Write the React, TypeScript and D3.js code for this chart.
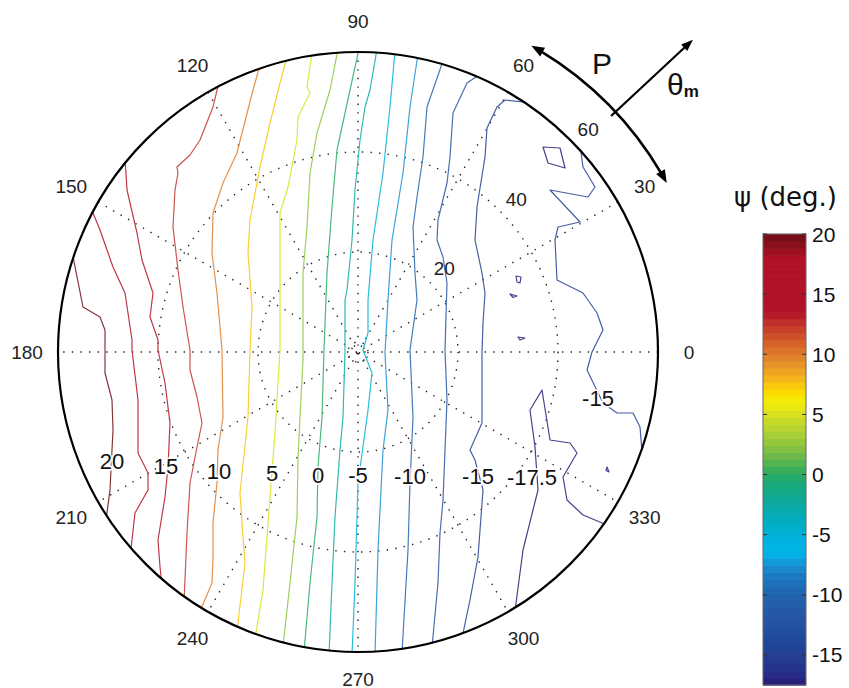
import React from "react";
import * as d3 from "d3";

// ---- layout ----
const W = 849;
const H = 688;
const CX = 358;
const CY = 352;
const R = 300;
const RMAX = 60;

// ---- polar grid ----
const angleTicks = [0, 30, 60, 90, 120, 150, 180, 210, 240, 270, 300, 330];
const ringValues = [2, 20, 40];
const radialTicks = [20, 40, 60];

// ---- contour levels (deg.) and traces, in plot units (x, y) ----
const contourLevels = [20, 17.5, 15, 12.5, 10, 7.5, 5, 2.5, 0, -2.5, -5, -7.5, -10, -12.5, -15, -15, -17.5];

const c20 = [[-57.3, 20.6], [-55, 9], [-51.6, 7], [-50.6, 4.4], [-50.6, -1.6], [-50.6, -4.2], [-49.2, -9.6], [-49, -15.6], [-49.2, -19.6], [-49.6, -27.6], [-50.4, -33.6]];
const c175 = [[-53.4, 28.8], [-51.6, 24.4], [-49, 17], [-46.6, 11.8], [-45.2, 2.4], [-45.2, 0.4], [-44, -9.6], [-44, -20.2], [-42, -24.2], [-42, -27.6], [-44.6, -32.2], [-45.5, -40.2]];
const c15 = [[-46.6, 38.8], [-46.2, 32.4], [-44.2, 23.8], [-43.2, 18.4], [-41, 11.8], [-41.6, 7], [-40, 2.4], [-40, 0.4], [-38.6, -6.2], [-37.6, -14.2], [-38, -23], [-38.6, -29], [-40, -37.6], [-39.6, -43], [-39.2, -46.6]];
const c125 = [[-27.8, 54], [-29, 49], [-31.6, 42.4], [-33.6, 39.4], [-36.2, 37], [-36, 35.8], [-36.6, 32.4], [-37, 25], [-36, 16.4], [-35, 9], [-33.6, 0.4], [-33.6, -3.6], [-32.2, -9], [-31.2, -14.2], [-32.2, -19], [-33.6, -26.2], [-34.2, -36.2], [-34.8, -50]];
const c10 = [[-19.6, 57.4], [-21, 52.4], [-23.2, 43.8], [-24.2, 39.8], [-27, 33.8], [-29, 27.8], [-29.2, 19.8], [-28.2, 11.8], [-27.6, 5], [-27.2, 0.4], [-27, -13], [-28, -19.6], [-28.2, -26.2], [-29, -34.2], [-29, -41], [-29.2, -46.2], [-31.6, -51.8]];
const c75 = [[-14.2, 59], [-15.6, 53.8], [-17.6, 45.8], [-19.6, 37], [-21.6, 26.4], [-22, 19.8], [-21.2, 9], [-21.6, 0.4], [-22, -13], [-23.6, -28.2], [-23, -37], [-22.6, -42.2], [-24.2, -55.8]];
const c5 = [[-9.2, 59.8], [-10.2, 53], [-9.6, 51.8], [-12, 47], [-12.2, 42.4], [-14, 33], [-15.6, 27.8], [-15.6, 19.8], [-15.6, 9], [-15.6, 0.4], [-16.6, -16.2], [-18, -34.2], [-19, -47.6], [-20.6, -57.4]];
const c25 = [[-4, 60.6], [-5.6, 52.4], [-8.2, 43.8], [-9.6, 35.8], [-10.2, 25], [-11, 15.8], [-11, -1.6], [-11.6, -13], [-12, -21.6], [-12.2, -33], [-13.6, -46.2], [-15, -58.8]];
const c0 = [[0.2, 60.6], [-1.6, 52.4], [-4.2, 40.4], [-5.2, 29], [-6.2, 15.8], [-6.8, 0.4], [-7.2, -13], [-8, -23], [-8.2, -33], [-9.6, -46.2], [-10.8, -60]];
const cm25 = [[3.8, 60.6], [2.4, 52.4], [1.4, 49], [0.4, 42.4], [-0.6, 32.4], [-1.2, 22.4], [-2.2, 12.4], [-2.6, 10.4], [-2.6, 0], [-3, -13], [-3.6, -19.6], [-4.6, -33], [-5.2, -46.2], [-5.8, -60.6]];
const cm5 = [[7.4, 60.2], [6.4, 49], [5, 35.8], [3, 22.4], [2, 10.4], [2, 3.8], [1, 0.4], [2.8, -4.2], [2, -11.6], [0, -26.2], [-0.6, -46.2], [-1.2, -60.6]];
const cm75 = [[12, 59.6], [10.4, 49], [9, 35.8], [6.8, 22.4], [6, 10.4], [5.4, -0.2], [6, -11.6], [5, -19.6], [4, -39.6], [3.4, -60.6]];
const cm10 = [[17, 58.2], [13.8, 49], [13, 39], [11.8, 31], [11, 25], [11.4, 15.8], [11.8, 10.4], [10.4, 0.4], [11, -13], [10.4, -26.2], [10, -39.6], [8.8, -60.2]];
const cm125 = [[24.2, 55.4], [21.8, 53.8], [19, 47.8], [18.4, 39], [17.8, 33.8], [16, 26.4], [15.8, 22.4], [17, 19], [17.8, 13.8], [17.4, 0.4], [17.8, -9.6], [17, -29.6], [16.4, -36.2], [16, -46.2], [14.8, -59]];
const cm15 = [[35, 49.8], [29.4, 50.4], [27.8, 49], [25.8, 44.8], [25.4, 39], [23.8, 29], [23.4, 22.4], [24.8, 15.8], [25.4, 11.8], [25, 5.8], [24.8, -0.2], [24.8, -14.2], [22.4, -19.6], [23.4, -21.6], [25, -27.6], [24, -41], [22.4, -49.6], [20.8, -57.2]];
const cm15b = [[44.4, 41.4], [45, 37], [47.4, 33], [46, 31], [38.4, 32.4], [44.4, 26], [40, 25], [39.4, 22.4], [39.8, 14.4], [45, 11.8], [47.8, 7.8], [49, 4.4], [46.8, 0], [45.8, -3.6], [49, -10.2], [51.8, -12.2], [55, -12.2], [56.4, -15], [57, -22.4]];
const cm175 = [[31.4, -51.8], [33, -39.6], [36, -27.6], [35.4, -19], [34.4, -11.6], [36.8, -7.6], [38.4, -17.6], [42.4, -18.2], [43.8, -20.2], [41, -25], [41.8, -29.6], [45, -32.6], [49.8, -34.6]];

const contourTraces = [c20, c175, c15, c125, c10, c75, c5, c25, c0, cm25, cm5, cm75, cm10, cm125, cm15, cm15b, cm175];

// small closed contours (level -17.5)
const islandLevel = -17.5;
const islands = [
  [[37, 41], [40.4, 40.8], [41.4, 36.8], [38, 37.8]],
  [[31.6, 15.2], [32.6, 15], [32.4, 13.8], [31.8, 14]],
  [[30.4, 11.6], [31.8, 11.2], [31, 10.9]],
  [[32, 3], [33.4, 2.8], [32.4, 2.4]],
  [[49.8, -23], [50.2, -24], [49.6, -23.7]],
];

// inline contour labels
const labelText = ["20", "15", "10", "5", "0", "-5", "-10", "-15", "-17.5", "-15"];
const labelAt = [[-49.2, -21.8], [-38.4, -22.8], [-27.8, -23.8], [-17.2, -24.2], [-8, -24.6], [0, -24.6], [10.4, -24.8], [24, -24.8], [34.8, -25], [48, -9.2]];

// ---- colour bar ----
const cbTicks = [20, 15, 10, 5, 0, -5, -10, -15];
const cbStops = [-17.5, -16.5, -15, -13.5, -12, -10, -8.5, -7.5, -6.5, -5, -3.5, -2, -0.5, 0.5, 1.5, 3, 4.5, 6, 7, 8, 9.5, 11, 12.5, 13.5, 18, 19, 20];
const cbColors = ["#271a75", "#262d88", "#233f92", "#1f4c9a", "#2755a3", "#2262ad", "#1a78c0", "#1890d2", "#00b5ec", "#00b0d8", "#05adb8", "#10a996", "#1aa872", "#3cae58", "#6bb84a", "#a0cb38", "#c8da28", "#f3ee08", "#fdd800", "#f3b41c", "#e28a2c", "#d5602a", "#c2342a", "#b2132a", "#b10f24", "#8d111c", "#6c0e16"];

const cmap = d3.scaleLinear<string>().domain(cbStops).range(cbColors).interpolate(d3.interpolateRgb).clamp(true);
const lineColor = (v: number) => d3.interpolateRgb(cmap(v), "#ffffff")(0.16);

const xS = d3.scaleLinear().domain([-RMAX, RMAX]).range([CX - R, CX + R]);
const yS = d3.scaleLinear().domain([-RMAX, RMAX]).range([CY + R, CY - R]);
const rS = d3.scaleLinear().domain([0, RMAX]).range([0, R]);
const rad = (deg: number) => (deg * Math.PI) / 180;
const polar = (deg: number, r: number): [number, number] => [CX + rS(r) * Math.cos(rad(deg)), CY - rS(r) * Math.sin(rad(deg))];

const CB_X = 763;
const CB_W = 43;
const cbY = d3.scaleLinear().domain([-17.5, 20]).range([685, 234]);

const line = d3.line<number[]>().x(d => xS(d[0])).y(d => yS(d[1]));
const closedLine = d3.line<number[]>().x(d => xS(d[0])).y(d => yS(d[1])).curve(d3.curveLinearClosed);

function arrowHead(tip: [number, number], dir: [number, number], len = 13, wid = 10) {
  const [dx, dy] = dir;
  const nx = -dy, ny = dx;
  const bx = tip[0] - dx * len, by = tip[1] - dy * len;
  return `M${tip[0]},${tip[1]}L${bx + (nx * wid) / 2},${by + (ny * wid) / 2}L${bx - (nx * wid) / 2},${by - (ny * wid) / 2}Z`;
}

const dots = { stroke: "#222", strokeWidth: 1.4, strokeDasharray: "1.4 7.2", fill: "none" };
const sans = "'Liberation Sans', Arial, Helvetica, sans-serif";

export default function App() {
  // colour bar bands
  const nBands = 64;
  const step = 37.5 / nBands;
  const bands = d3.range(nBands).map(i => {
    const v0 = -17.5 + i * step;
    return { y: cbY(v0 + step), h: cbY(v0) - cbY(v0 + step) + 0.6, c: cmap(v0 + step / 2) };
  });

  // P arc with two heads
  const rP = 70.4;
  const tipLo = 28.7, tipHi = 60.5;
  const arcPath = d3.path();
  const a0 = -rad(tipLo + 1.6), a1 = -rad(tipHi - 1.6);
  arcPath.moveTo(CX + rS(rP) * Math.cos(a0), CY + rS(rP) * Math.sin(a0));
  arcPath.arc(CX, CY, rS(rP), a0, a1, true);
  const headHi = arrowHead(polar(tipHi, rP), [-Math.sin(rad(tipHi)), -Math.cos(rad(tipHi))]);
  const headLo = arrowHead(polar(tipLo, rP), [Math.sin(rad(tipLo)), Math.cos(rad(tipLo))]);

  // theta_m arrow
  const thAng = 43;
  const thStart = polar(thAng, 69.2);
  const thEnd = polar(thAng, 91.6);
  const thDir: [number, number] = [Math.cos(rad(thAng)), -Math.sin(rad(thAng))];
  const thLineEnd = [thEnd[0] - thDir[0] * 10, thEnd[1] - thDir[1] * 10];

  const pPos = polar(49.8, 75.6);

  return (
    <svg width={W} height={H} style={{ position: "absolute", left: 0, top: 0, background: "#fff" }} fontFamily={sans}>
      <defs>
        <clipPath id="disk">
          <circle cx={CX} cy={CY} r={R} />
        </clipPath>
      </defs>

      {/* dotted grid */}
      {ringValues.map(v => (
        <circle key={`ring${v}`} cx={CX} cy={CY} r={rS(v)} {...dots} />
      ))}
      {angleTicks.filter(a => a < 180).map(a => {
        const p1 = polar(a, RMAX);
        const p2 = polar(a + 180, RMAX);
        return <line key={`sp${a}`} x1={p1[0]} y1={p1[1]} x2={p2[0]} y2={p2[1]} {...dots} />;
      })}

      {/* contour lines */}
      <g clipPath="url(#disk)" fill="none" strokeWidth={1.2} strokeLinejoin="round">
        {contourTraces.map((t, i) => (
          <path key={`c${i}`} d={line(t) || ""} stroke={lineColor(contourLevels[i])} />
        ))}
        {islands.map((t, i) => (
          <path key={`isl${i}`} d={closedLine(t) || ""} stroke={lineColor(islandLevel)} />
        ))}
      </g>

      {/* outer circle */}
      <circle cx={CX} cy={CY} r={R} fill="none" stroke="#000" strokeWidth={2.2} />

      {/* angle labels (270 nudged up so it stays on the page) */}
      {angleTicks.map(a => {
        const p = polar(a, a === 270 ? 65.4 : 66.2);
        return (
          <text key={`al${a}`} x={p[0]} y={p[1]} fontSize={19} textAnchor="middle" dominantBaseline="central" fill="#222">
            {a}
          </text>
        );
      })}

      {/* radial labels */}
      {radialTicks.map(v => {
        const p = polar(44, v + 4);
        return (
          <text key={`rl${v}`} x={p[0]} y={p[1]} fontSize={19} textAnchor="middle" dominantBaseline="central" fill="#222">
            {v}
          </text>
        );
      })}

      {/* inline contour labels */}
      {labelText.map((t, i) => (
        <text
          key={`cl${i}`}
          x={xS(labelAt[i][0])}
          y={yS(labelAt[i][1])}
          fontSize={22}
          textAnchor="middle"
          dominantBaseline="central"
          fill="#111"
          stroke="#fff"
          strokeWidth={3}
          paintOrder="stroke"
        >
          {t}
        </text>
      ))}

      {/* P arc arrow */}
      <path d={arcPath.toString()} fill="none" stroke="#000" strokeWidth={2.6} />
      <path d={headHi} fill="#000" />
      <path d={headLo} fill="#000" />
      <text x={pPos[0]} y={pPos[1]} fontSize={30} textAnchor="middle" dominantBaseline="central" fill="#111">
        P
      </text>

      {/* theta_m arrow */}
      <line x1={thStart[0]} y1={thStart[1]} x2={thLineEnd[0]} y2={thLineEnd[1]} stroke="#000" strokeWidth={2.2} />
      <path d={arrowHead(thEnd, thDir, 12, 9)} fill="#000" />
      <text x={667} y={95} fontSize={30} fill="#111">
        θ
        <tspan fontSize={17} fontWeight="bold" dy={2}>
          m
        </tspan>
      </text>

      {/* colour bar */}
      <text x={734} y={206} fontSize={26} fontFamily="'DejaVu Sans', sans-serif" fill="#111">
        ψ (deg.)
      </text>
      {bands.map((b, i) => (
        <rect key={`cb${i}`} x={CB_X} y={b.y} width={CB_W} height={b.h} fill={b.c} />
      ))}
      <rect x={CB_X} y={cbY(20)} width={CB_W} height={cbY(-17.5) - cbY(20)} fill="none" stroke="#666" strokeWidth={1} />
      {cbTicks.map(v => (
        <g key={`cbt${v}`}>
          <line x1={CB_X} x2={CB_X + 4} y1={cbY(v)} y2={cbY(v)} stroke="#333" strokeWidth={1} />
          <line x1={CB_X + CB_W - 4} x2={CB_X + CB_W} y1={cbY(v)} y2={cbY(v)} stroke="#333" strokeWidth={1} />
          <text x={CB_X + 49} y={cbY(v)} fontSize={21} dominantBaseline="central" fill="#111">
            {v}
          </text>
        </g>
      ))}
    </svg>
  );
}
